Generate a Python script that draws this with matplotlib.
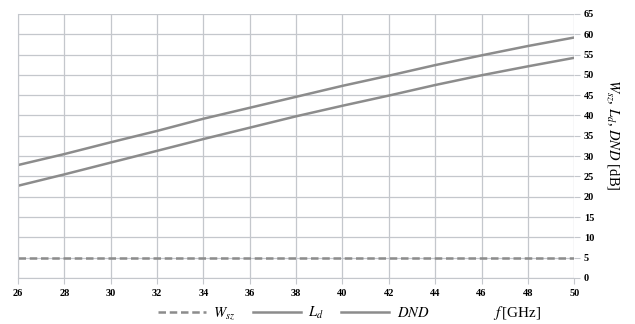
import numpy as np
import matplotlib
matplotlib.use("Agg")
import matplotlib.pyplot as plt
from matplotlib.lines import Line2D

plt.rcParams['font.family'] = 'Liberation Serif'
plt.rcParams['mathtext.fontset'] = 'stix'

# dane
f_ghz = [26, 28, 30, 32, 34, 36, 38, 40, 42, 44, 46, 48, 50]
w_sz = [5.0] * len(f_ghz)
l_d = [22.7, 25.5, 28.4, 31.3, 34.2, 37.0, 39.8, 42.4, 44.9, 47.5, 49.9, 52.1, 54.2]
dnd = [27.8, 30.5, 33.4, 36.2, 39.2, 41.9, 44.6, 47.3, 49.8, 52.4, 54.8, 57.1, 59.2]

x_ticks = list(range(26, 51, 2))
y_ticks = list(range(0, 66, 5))

line_col = '#8c8c8c'
grid_col = '#c4c7cc'

fig = plt.figure(figsize=(6.35, 3.24), dpi=100)
ax = fig.add_axes([0.0283, 0.142, 0.876, 0.815])

ax.plot(f_ghz, w_sz, color=line_col, lw=1.8, ls=(0, (3, 1.5)))
ax.plot(f_ghz, l_d, color=line_col, lw=1.8)
ax.plot(f_ghz, dnd, color=line_col, lw=1.8)

ax.set_xlim(26, 50)
ax.set_ylim(0, 65)
ax.set_xticks(x_ticks)
ax.set_yticks(y_ticks)
ax.grid(True, color=grid_col, lw=0.9)
ax.set_axisbelow(True)

for s in ax.spines.values():
    s.set_visible(False)
ax.spines['left'].set_visible(True)
ax.spines['left'].set_color(grid_col)
ax.spines['bottom'].set_visible(True)
ax.spines['bottom'].set_color(grid_col)

ax.yaxis.tick_right()
ax.tick_params(axis='y', length=4, color=grid_col, labelsize=7.5, pad=3)
ax.tick_params(axis='x', length=4, color=grid_col, labelsize=7.5, pad=4)
for lab in ax.get_xticklabels() + ax.get_yticklabels():
    lab.set_fontweight('bold')

# opis osi Y po prawej stronie
fig.text(0.965, 0.585, '$W_{sz}$, $L_d$, $DND$ [dB]', rotation=270,
         fontsize=10.5, ha='center', va='center')

handles = [
    Line2D([], [], color=line_col, lw=1.8, ls=(0, (3, 1.5))),
    Line2D([], [], color=line_col, lw=1.8),
    Line2D([], [], color=line_col, lw=1.8),
]
labels = ['$W_{sz}$', '$L_d$', '$DND$']
fig.legend(handles, labels, loc='center', bbox_to_anchor=(0.462, 0.034), ncol=3,
           frameon=False, fontsize=10.5, handlelength=3.3, handletextpad=0.5,
           columnspacing=1.2)

fig.text(0.815, 0.034, '$f\\,$[GHz]', fontsize=11, ha='center', va='center')

fig.savefig('out.png', dpi=100)
